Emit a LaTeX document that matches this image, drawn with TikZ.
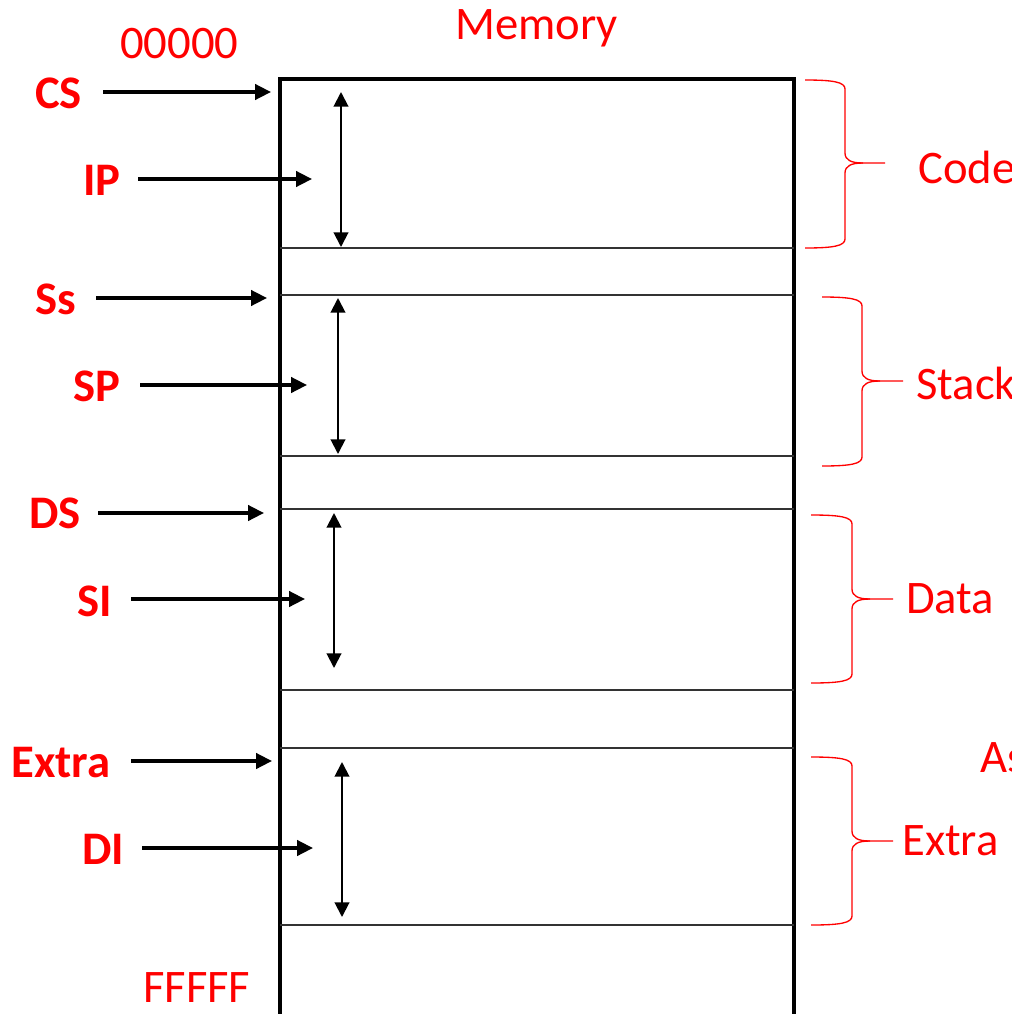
\documentclass[tikz,border=0pt]{standalone}
\usepackage{fontspec}
\setmainfont{Carlito}
\usetikzlibrary{arrows.meta}
\definecolor{segred}{RGB}{255,0,0}

% curly brace: #1 end x, #2 top y, #3 bottom y, #4 spine x, #5 cusp y, #6 tick end x
\newcommand\segbrace[6]{%
  \draw[bracepath]
    (#1,#2) .. controls ({#4-12},#2) and (#4,{#2+2}) .. (#4,{#2+9})
    -- (#4,{#5-10}) .. controls (#4,{#5-3}) and ({#4+6},#5) .. ({#4+18},#5)
    -- (#6,#5);
  \draw[bracepath]
    ({#4+18},#5) .. controls ({#4+6},#5) and (#4,{#5+3}) .. (#4,{#5+10})
    -- (#4,{#3-9}) .. controls (#4,{#3-2}) and ({#4-12},#3) .. (#1,#3);
}

\begin{document}
\begin{tikzpicture}[x=0.75pt,y=-0.75pt,
  txt/.style={inner sep=0pt, anchor=base west, text=segred,
    font=\fontsize{35}{42}\selectfont},
  reg/.style={txt, font=\fontsize{35}{42}\selectfont\bfseries},
  pointer/.style={line width=2.5pt, -{Triangle[length=12pt,width=11.5pt]}},
  extent/.style={line width=1.5pt,
    {Triangle[length=11pt,width=11pt]}-{Triangle[length=11pt,width=11pt]}},
  wall/.style={line width=2.5pt},
  divider/.style={line width=0.8pt, draw=black!80},
  bracepath/.style={draw=segred, line width=1pt}]
\useasboundingbox (0,0) rectangle (1012,1014);
\clip (0,0) rectangle (1012,1014);

% memory column
\draw[wall] (280,1020) -- (280,79) -- (794,79) -- (794,1020);
\foreach \y in {248,295,456,509,690,748,925}
  \draw[divider] (280,\y) -- (794,\y);

% titles and address bounds
\node[txt] (mem) at (455,39) {Memory};
\node[txt] (lo) at (120,58) {00000};
\node[txt] (hi) at (143,1002) {FFFFF};

% register labels
\node[reg] (cs) at (35,108) {CS};
\node[reg] (ip) at (83,195) {IP};
\node[reg] (ss) at (35,314) {Ss};
\node[reg] (sp) at (73,401) {SP};
\node[reg] (ds) at (29,528) {DS};
\node[reg] (si) at (77,616) {SI};
\node[reg] (es) at (11,777) {Extra};
\node[reg] (di) at (82,864) {DI};

% pointer arrows
\coordinate (csA) at (103,92);  \coordinate (csB) at (271,92);
\coordinate (ipA) at (138,179); \coordinate (ipB) at (312,179);
\coordinate (ssA) at (96,298);  \coordinate (ssB) at (267,298);
\coordinate (spA) at (140,385); \coordinate (spB) at (307,385);
\coordinate (dsA) at (98,513);  \coordinate (dsB) at (264,513);
\coordinate (siA) at (131,599); \coordinate (siB) at (305,599);
\coordinate (esA) at (131,761); \coordinate (esB) at (272,761);
\coordinate (diA) at (142,848); \coordinate (diB) at (313,848);
\foreach \r in {cs,ip,ss,sp,ds,si,es,di}
  \draw[pointer] (\r A) -- (\r B);

% segment extents
\coordinate (c1) at (341,92);  \coordinate (c2) at (341,247);
\coordinate (s1) at (338,298); \coordinate (s2) at (338,454);
\coordinate (d1) at (334,513); \coordinate (d2) at (334,668);
\coordinate (e1) at (342,762); \coordinate (e2) at (342,917);
\draw[extent] (c1) -- (c2);
\draw[extent] (s1) -- (s2);
\draw[extent] (d1) -- (d2);
\draw[extent] (e1) -- (e2);

% segment braces
\segbrace{805}{80}{248}{845}{163}{885}
\segbrace{822}{297}{466}{862}{381}{903}
\segbrace{811}{515}{683}{852}{599}{893}
\segbrace{811}{757}{925}{852}{841}{893}

\node[txt] (code) at (918,183) {Code};
\node[txt] (stack) at (916,399) {Stack};
\node[txt] (data) at (906,613) {Data};
\node[txt] (extra) at (902,855) {Extra};
\node[txt] (as) at (980,772) {As};
\end{tikzpicture}
\end{document}
